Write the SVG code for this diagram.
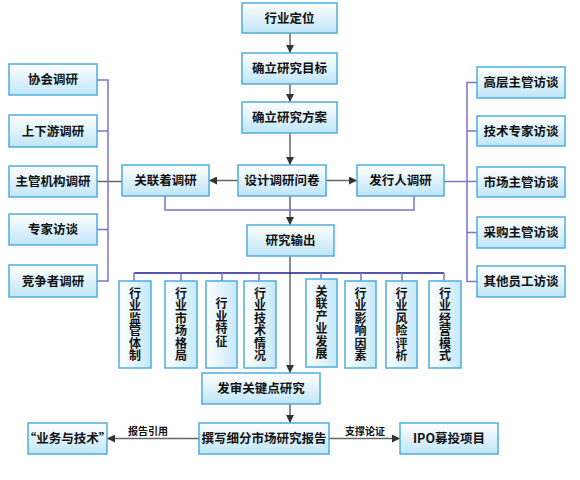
<svg xmlns="http://www.w3.org/2000/svg" width="580" height="480" viewBox="0 0 580 480">
<defs>
<linearGradient id="g" x1="0" y1="0" x2="0" y2="1">
<stop offset="0" stop-color="#ffffff"/>
<stop offset="1" stop-color="#bfe5f7"/>
</linearGradient>
<linearGradient id="gv" x1="0" y1="0" x2="1" y2="0">
<stop offset="0" stop-color="#ffffff"/>
<stop offset="1" stop-color="#c6e8f8"/>
</linearGradient>
<marker id="ah" viewBox="0 0 10 10" refX="10" refY="5" markerWidth="8" markerHeight="8" markerUnits="userSpaceOnUse" orient="auto">
<path d="M0,0 L10,5 L0,10 z" fill="#333"/>
</marker>
</defs>
<style>
.b{fill:url(#g);stroke:#4eaedb;stroke-width:1.5}
.bv{fill:url(#gv);stroke:#4eaedb;stroke-width:1.5}
.t{font-family:"Noto Sans CJK SC","Noto Sans",sans-serif;font-size:12.5px;font-weight:bold;fill:#111;text-anchor:middle}
.tv{font-family:"Noto Sans CJK SC","Noto Sans",sans-serif;font-size:12px;font-weight:bold;fill:#111;text-anchor:middle;writing-mode:vertical-rl;letter-spacing:0.5px}
.s{font-family:"Noto Sans CJK SC","Noto Sans",sans-serif;font-size:10px;font-weight:bold;fill:#111;text-anchor:middle}
.a{stroke:#666;stroke-width:1.5;fill:none}
.p{stroke:#7c74cc;stroke-width:1.5;fill:none}
.n{stroke:#1c1c8c;stroke-width:1.5;fill:none}
</style>
<rect width="580" height="480" fill="#fff"/>
<g id="connectors">
<line class="a" x1="290" y1="33" x2="290" y2="53" marker-end="url(#ah)"/>
<line class="a" x1="290" y1="84" x2="290" y2="102" marker-end="url(#ah)"/>
<line class="a" x1="290" y1="133" x2="290" y2="165" marker-end="url(#ah)"/>
<line class="a" x1="290" y1="196" x2="290" y2="225" marker-end="url(#ah)"/>
<line class="a" x1="290" y1="256" x2="290" y2="373" marker-end="url(#ah)"/>
<line class="a" x1="290" y1="404" x2="290" y2="423" marker-end="url(#ah)"/>
<line class="a" x1="238" y1="180.5" x2="209" y2="180.5" marker-end="url(#ah)"/>
<line class="a" x1="326" y1="180.5" x2="357" y2="180.5" marker-end="url(#ah)"/>
<line class="a" x1="97" y1="181.5" x2="122" y2="181.5"/>
<line class="a" x1="199" y1="438.5" x2="107" y2="438.5" marker-end="url(#ah)"/>
<line class="a" x1="329" y1="438.5" x2="400" y2="438.5" marker-end="url(#ah)"/>
<path class="p" d="M97,80 H108 V281 H97 M97,131 H108 M97,229.5 H108"/>
<path class="p" d="M477,82.5 H467 V281.5 H477 M477,131 H467 M477,232.5 H467 M444,181.5 H477"/>
<path class="p" d="M165,196 V210 H414 V196"/>
<line class="n" x1="134" y1="273" x2="444" y2="273"/>
<path class="p" d="M134,273 V281 M181,273 V281 M222,273 V281 M259,273 V281 M321,273 V279 M361,273 V281 M402,273 V281 M444,273 V281"/>
<text class="s" x="148" y="435">报告引用</text>
<text class="s" x="365" y="435">支撑论证</text>
</g>
<g id="n1"><rect class="b" x="242" y="3" width="95" height="30"/><text class="t" x="289.5" y="22.5">行业定位</text></g>
<g id="n2"><rect class="b" x="242" y="53" width="95" height="31"/><text class="t" x="289.5" y="73">确立研究目标</text></g>
<g id="n3"><rect class="b" x="242" y="102" width="95" height="31"/><text class="t" x="289.5" y="122">确立研究方案</text></g>
<g id="n4"><rect class="b" x="238" y="165" width="88" height="31"/><text class="t" x="282" y="185">设计调研问卷</text></g>
<g id="n5"><rect class="b" x="122" y="165" width="87" height="31"/><text class="t" x="165.5" y="185">关联着调研</text></g>
<g id="n6"><rect class="b" x="357" y="165" width="87" height="31"/><text class="t" x="400.5" y="185">发行人调研</text></g>
<g id="n7"><rect class="b" x="247" y="225" width="87" height="31"/><text class="t" x="290.5" y="245">研究输出</text></g>
<g id="l1"><rect class="b" x="9" y="64" width="88" height="31"/><text class="t" x="53" y="84">协会调研</text></g>
<g id="l2"><rect class="b" x="9" y="115" width="88" height="32"/><text class="t" x="53" y="135.5">上下游调研</text></g>
<g id="l3"><rect class="b" x="9" y="166" width="88" height="31"/><text class="t" x="53" y="186">主管机构调研</text></g>
<g id="l4"><rect class="b" x="9" y="214" width="88" height="31"/><text class="t" x="53" y="234">专家访谈</text></g>
<g id="l5"><rect class="b" x="9" y="265" width="88" height="32"/><text class="t" x="53" y="285.5">竞争者调研</text></g>
<g id="r1"><rect class="b" x="477" y="67" width="88" height="31"/><text class="t" x="521" y="87">高层主管访谈</text></g>
<g id="r2"><rect class="b" x="477" y="116" width="88" height="30"/><text class="t" x="521" y="135.5">技术专家访谈</text></g>
<g id="r3"><rect class="b" x="477" y="167" width="88" height="30"/><text class="t" x="521" y="186.5">市场主管访谈</text></g>
<g id="r4"><rect class="b" x="477" y="217" width="88" height="31"/><text class="t" x="521" y="237">采购主管访谈</text></g>
<g id="r5"><rect class="b" x="477" y="266" width="88" height="31"/><text class="t" x="521" y="286">其他员工访谈</text></g>
<g id="v1"><rect class="bv" x="119" y="281" width="32" height="87"/><text class="tv" x="135" y="324.5">行业监管体制</text></g>
<g id="v2"><rect class="bv" x="165" y="281" width="32" height="87"/><text class="tv" x="181" y="324.5">行业市场格局</text></g>
<g id="v3"><rect class="bv" x="206" y="281" width="31" height="87"/><text class="tv" x="221.5" y="322.5">行业特征</text></g>
<g id="v4"><rect class="bv" x="244" y="281" width="32" height="87"/><text class="tv" x="260" y="324.5">行业技术情况</text></g>
<g id="v5"><rect class="bv" x="306" y="279" width="31" height="88"/><text class="tv" x="321.5" y="322.5">关联产业发展</text></g>
<g id="v6"><rect class="bv" x="345" y="281" width="31" height="87"/><text class="tv" x="360.5" y="324.5">行业影响因素</text></g>
<g id="v7"><rect class="bv" x="386" y="281" width="31" height="87"/><text class="tv" x="401.5" y="324.5">行业风险评析</text></g>
<g id="v8"><rect class="bv" x="429" y="281" width="32" height="87"/><text class="tv" x="445" y="324.5">行业经营模式</text></g>
<g id="n8"><rect class="b" x="202" y="373" width="118" height="31"/><text class="t" x="261" y="393">发审关键点研究</text></g>
<g id="n9"><rect class="b" x="199" y="423" width="130" height="31"/><text class="t" x="264" y="443">撰写细分市场研究报告</text></g>
<g id="n10"><rect class="b" x="28" y="423" width="79" height="31"/><text class="t" x="67.5" y="443">“业务与技术”</text></g>
<g id="n11"><rect class="b" x="400" y="423" width="98" height="31"/><text class="t" x="449" y="443">IPO募投项目</text></g>
</svg>
